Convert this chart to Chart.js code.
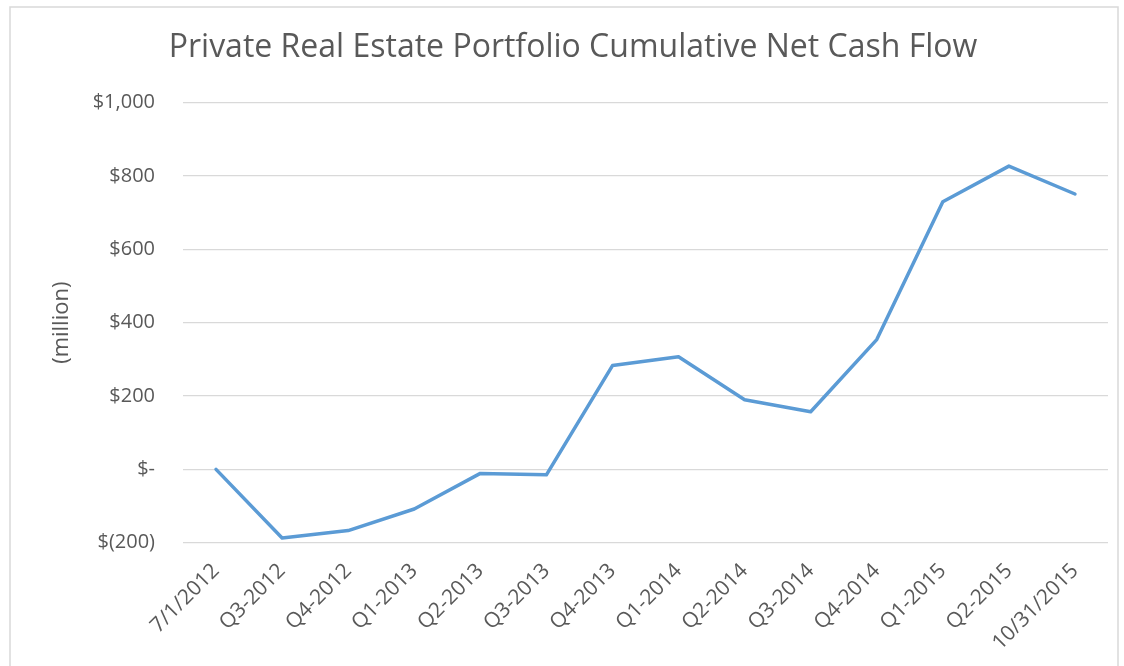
<!DOCTYPE html>
<html>
<head>
<meta charset="utf-8">
<script src="https://cdn.jsdelivr.net/npm/chart.js@4"></script>
<style>
  html, body { margin: 0; padding: 0; background: #fff; }
  #wrap { position: relative; width: 1124px; height: 666px; }
</style>
</head>
<body>
<div id="wrap"><canvas id="grafico" width="1124" height="666"></canvas></div>
<script>
// dados
const periodos = ['7/1/2012', 'Q3-2012', 'Q4-2012', 'Q1-2013', 'Q2-2013', 'Q3-2013', 'Q4-2013',
  'Q1-2014', 'Q2-2014', 'Q3-2014', 'Q4-2014', 'Q1-2015', 'Q2-2015', '10/31/2015'];
const fluxoAcumulado = [0, -187, -167, -108, -11, -15, 283, 307, 190, 157, 354, 730, 827, 751];
const yTickLabels = ['$(200)', '$-', '$200', '$400', '$600', '$800', '$1,000'];
const titulo = 'Private Real Estate Portfolio Cumulative Net Cash Flow';

const corTexto = '#595959';
const corGrade = '#D9D9D9';
const fonte = "'Open Sans', 'Noto Sans', sans-serif";

// moldura + título (desenhados à mão p/ ficar igual ao Excel)
const moldura = {
  id: 'moldura',
  beforeDraw(chart) {
    const ctx = chart.ctx;
    ctx.save();
    ctx.strokeStyle = corGrade;
    ctx.lineWidth = 1.5;
    ctx.beginPath();
    ctx.moveTo(10, 666);
    ctx.lineTo(10, 7);
    ctx.lineTo(1118, 7);
    ctx.lineTo(1118, 666);
    ctx.stroke();

    ctx.fillStyle = corTexto;
    ctx.font = "32px " + fonte;
    ctx.textAlign = 'center';
    ctx.textBaseline = 'middle';
    ctx.fillText(titulo, 573, 48);
    ctx.restore();
  }
};

new Chart(document.getElementById('grafico').getContext('2d'), {
  type: 'line',
  data: {
    labels: periodos,
    datasets: [{
      data: fluxoAcumulado,
      borderColor: '#5B9BD5',
      borderWidth: 3.5,
      borderCapStyle: 'round',
      borderJoinStyle: 'round',
      pointRadius: 0,
      tension: 0,
      fill: false
    }]
  },
  options: {
    responsive: false,
    animation: false,
    layout: { padding: { left: 0, right: 16, top: 102.7, bottom: 0 } },
    plugins: {
      legend: { display: false },
      tooltip: { enabled: false },
      title: { display: false }
    },
    scales: {
      x: {
        offset: true,
        grid: { display: false, drawTicks: false },
        border: { display: false },
        ticks: {
          color: corTexto,
          font: { family: fonte, size: 21 },
          autoSkip: false,
          maxRotation: 45,
          minRotation: 45,
          padding: 16
        },
        afterFit(axis) { axis.height = 123.3; }
      },
      y: {
        min: -200,
        max: 1000,
        grid: { color: corGrade, lineWidth: 1.3, drawTicks: false },
        border: { display: false },
        ticks: {
          stepSize: 200,
          color: corTexto,
          font: { family: fonte, size: 20 },
          padding: 28,
          callback: (v, i) => yTickLabels[i]
        },
        title: {
          display: true,
          text: '(million)',
          color: corTexto,
          font: { family: fonte, size: 22 },
          padding: { top: 49, bottom: 0 }
        },
        afterFit(axis) { axis.width = 183; }
      }
    }
  },
  plugins: [moldura]
});
</script>
</body>
</html>
